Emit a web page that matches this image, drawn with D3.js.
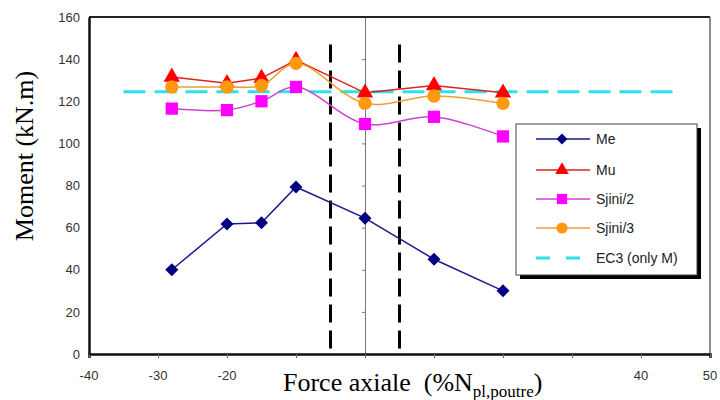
<!DOCTYPE html>
<html><head><meta charset="utf-8">
<script src="https://cdn.jsdelivr.net/npm/d3@7"></script>
<style>body{margin:0;background:#fff}svg{display:block}</style>
</head><body>
<svg id="c" width="720" height="400"></svg>
<script>
const forces = [-28, -20, -15, -10, 0, 10, 20];
const me = [40, 61.7, 62.3, 79.3, 64.5, 45, 30];
const mu = [131.5, 128.5, 131, 139.5, 124, 127.5, 124];
const sjini2 = [116.5, 115.8, 120, 126.8, 109.2, 112.6, 103.3];
const sjini3 = [126.8, 126.8, 127.5, 138, 119, 122.5, 119];
const ec3Range = [-35, 45];
const ec3Value = 124.5;
const limits = [-5, 5];
const limitTop = 147;
const xTicks = [-40, -30, -20, -10, 0, 10, 20, 30, 40, 50];
const xTickLabels = [-40, -30, -20, 40, 50];
const yTicks = [0, 20, 40, 60, 80, 100, 120, 140, 160];
const seriesNames = ["Me", "Mu", "Sjini/2", "Sjini/3", "EC3 (only M)"];

const svg = d3.select("#c");
const x = d3.scaleLinear().domain([-40, 50]).range([89, 710]);
const y = d3.scaleLinear().domain([0, 160]).range([354, 17]);

// EC3 dashed line
svg.append("line").attr("x1", x(ec3Range[0])).attr("x2", x(ec3Range[1]))
  .attr("y1", y(ec3Value)).attr("y2", y(ec3Value))
  .attr("stroke", "#2ee0ea").attr("stroke-width", 3).attr("stroke-dasharray", "22,9");

// x=0 thin axis
const yAxis0 = svg.append("g").attr("transform", `translate(${x(0)},0)`)
  .call(d3.axisLeft(y).tickValues(yTicks).tickSize(3).tickFormat(""));
yAxis0.select(".domain").attr("stroke", "#777").attr("stroke-width", 1);
yAxis0.selectAll(".tick line").attr("stroke", "#777");

// black dashed verticals
limits.forEach(v => {
  svg.append("line").attr("x1", x(v)).attr("x2", x(v)).attr("y1", y(limitTop)).attr("y2", y(0))
    .attr("stroke", "#000").attr("stroke-width", 3).attr("stroke-dasharray", "18,8");
});

// frame
svg.append("line").attr("x1", 89).attr("x2", 710).attr("y1", 17).attr("y2", 17).attr("stroke", "#222").attr("stroke-width", 2);
svg.append("line").attr("x1", 710).attr("x2", 710).attr("y1", 17).attr("y2", 354).attr("stroke", "#666").attr("stroke-width", 1.5);

// x axis
const xa = svg.append("g").attr("transform", `translate(0,${y(0)})`)
  .call(d3.axisBottom(x).tickValues(xTicks).tickSize(4).tickFormat(""));
xa.select(".domain").attr("stroke", "#111").attr("stroke-width", 2.5);
xa.selectAll(".tick line").attr("stroke", "#666");
svg.append("g").selectAll("text").data(xTickLabels).join("text")
  .attr("x", d => x(d)).attr("y", 380).attr("text-anchor", "middle")
  .attr("font-family", "Arial, Liberation Sans, sans-serif").attr("font-size", 13).attr("fill", "#333")
  .text(d => d);

// y axis
const ya = svg.append("g").attr("transform", `translate(89,0)`)
  .call(d3.axisLeft(y).tickValues(yTicks).tickSize(0).tickPadding(9));
ya.select(".domain").attr("stroke", "#111").attr("stroke-width", 2.5);
ya.selectAll("text").attr("font-family", "Arial, Liberation Sans, sans-serif").attr("font-size", 13).attr("fill", "#333");

// titles
svg.append("text").attr("transform", "translate(33,156) rotate(-90)").attr("text-anchor", "middle")
  .attr("font-family", "Liberation Serif, Times New Roman, serif").attr("font-size", 26).attr("fill", "#000")
  .text("Moment (kN.m)");
const xt = svg.append("text").attr("x", 283).attr("y", 391)
  .attr("font-family", "Liberation Serif, Times New Roman, serif").attr("font-size", 26).attr("fill", "#000")
  .attr("xml:space", "preserve");
xt.append("tspan").text("Force axiale  (%N");
xt.append("tspan").attr("font-size", 17).attr("dy", 6).text("pl,poutre");
xt.append("tspan").attr("dy", -6).text(")");

// series
const series = [
  {name: "Me", vals: me, line: "#1a1a8c", fill: "#000080", sym: d3.symbolSquare, size: 85, rot: 45, curve: d3.curveLinear},
  {name: "Mu", vals: mu, line: "#e02020", fill: "#ff0000", sym: d3.symbolTriangle, size: 115, rot: 0, curve: d3.curveLinear},
  {name: "Sjini/2", vals: sjini2, line: "#d040d0", fill: "#ff00ff", sym: d3.symbolSquare, size: 150, rot: 0, curve: d3.curveCatmullRom},
  {name: "Sjini/3", vals: sjini3, line: "#e8a030", fill: "#ff9a10", sym: d3.symbolCircle, size: 140, rot: 0, curve: d3.curveCatmullRom},
];
series.forEach(s => {
  const pts = forces.map((f, i) => [f, s.vals[i]]);
  svg.append("path").datum(pts)
    .attr("d", d3.line().x(d => x(d[0])).y(d => y(d[1])).curve(s.curve))
    .attr("fill", "none").attr("stroke", s.line).attr("stroke-width", 1.5);
  svg.append("g").selectAll("path").data(pts).join("path")
    .attr("transform", d => `translate(${x(d[0])},${y(d[1])}) rotate(${s.rot})`)
    .attr("d", d3.symbol().type(s.sym).size(s.size)).attr("fill", s.fill);
});

// legend
const lg = svg.append("g");
lg.append("rect").attr("x", 520).attr("y", 128).attr("width", 181).attr("height", 151).attr("fill", "#000");
lg.append("rect").attr("x", 516).attr("y", 124).attr("width", 181).attr("height", 151).attr("fill", "#fff").attr("stroke", "#444").attr("stroke-width", 1);
const ly = [139, 170, 199, 228, 258];
series.forEach((s, i) => {
  lg.append("line").attr("x1", 536).attr("x2", 590).attr("y1", ly[i]).attr("y2", ly[i]).attr("stroke", s.line).attr("stroke-width", 1.5);
  lg.append("path").attr("transform", `translate(562,${ly[i]}) rotate(${s.rot})`).attr("d", d3.symbol().type(s.sym).size(s.size * 0.7)).attr("fill", s.fill);
});
lg.append("line").attr("x1", 536).attr("x2", 584).attr("y1", ly[4]).attr("y2", ly[4]).attr("stroke", "#2ee0ea").attr("stroke-width", 3).attr("stroke-dasharray", "14,16");
lg.selectAll("text.l").data(seriesNames).join("text").attr("class", "l")
  .attr("x", 596).attr("y", (d, i) => ly[i] + 5)
  .attr("font-family", "Arial, Liberation Sans, sans-serif").attr("font-size", 14).attr("fill", "#222")
  .text(d => d);
</script>
</body></html>
